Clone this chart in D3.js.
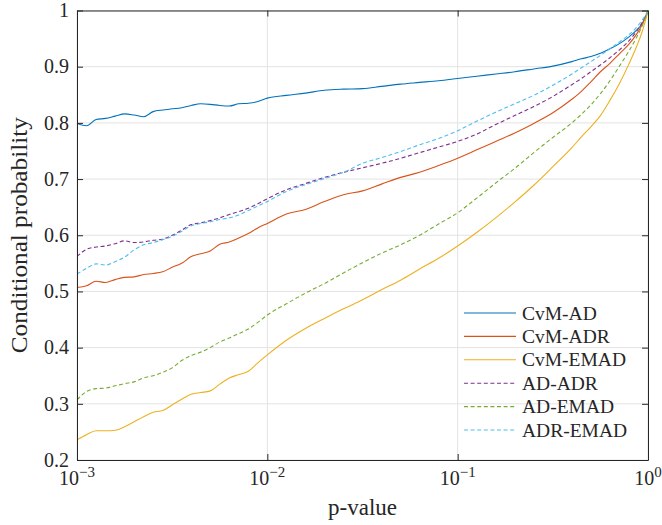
<!DOCTYPE html>
<html>
<head>
<meta charset="utf-8">
<script src="https://cdn.jsdelivr.net/npm/d3@7"></script>
<style>
  body { margin: 0; background: #fff; }
  text { font-family: "Liberation Serif", "Times New Roman", serif; fill: #262626; }
</style>
</head>
<body>
<div id="chart"></div>
<script>
const svgWidth = 662;
const svgHeight = 525;

const margin = { top: 10.5, right: 14, bottom: 65, left: 77 };
const width = svgWidth - margin.left - margin.right;
const height = svgHeight - margin.top - margin.bottom;

// x grid (log10 of the p-value) shared by every curve
const logP = [-3, -2.95, -2.9, -2.85, -2.8, -2.75, -2.7, -2.65, -2.6, -2.55, -2.5, -2.45, -2.4, -2.35, -2.3,
  -2.25, -2.2, -2.15, -2.1, -2.05, -2, -1.9, -1.8, -1.7, -1.6, -1.5, -1.4, -1.3, -1.2, -1.1, -1,
  -0.9, -0.8, -0.7, -0.6, -0.5, -0.4, -0.35, -0.3, -0.25, -0.2, -0.15, -0.1, -0.06, -0.03, 0];

const cvmAD = [0.799, 0.795, 0.806, 0.808, 0.812, 0.816, 0.814, 0.811, 0.820, 0.823, 0.825, 0.827, 0.831, 0.834, 0.833,
  0.831, 0.830, 0.834, 0.835, 0.838, 0.844, 0.849, 0.853, 0.858, 0.860, 0.861, 0.865, 0.869, 0.872, 0.875, 0.879,
  0.883, 0.887, 0.891, 0.896, 0.901, 0.909, 0.914, 0.918, 0.924, 0.932, 0.941, 0.953, 0.965, 0.977, 0.999];
const cvmADR = [0.507, 0.510, 0.518, 0.516, 0.521, 0.525, 0.526, 0.530, 0.532, 0.535, 0.543, 0.550, 0.562, 0.567, 0.572,
  0.584, 0.588, 0.595, 0.603, 0.613, 0.621, 0.638, 0.646, 0.660, 0.672, 0.679, 0.691, 0.703, 0.712, 0.724, 0.737,
  0.752, 0.767, 0.782, 0.799, 0.818, 0.842, 0.856, 0.873, 0.891, 0.906, 0.923, 0.940, 0.958, 0.975, 0.999];
const cvmEMAD = [0.236, 0.245, 0.252, 0.252, 0.253, 0.259, 0.268, 0.277, 0.285, 0.288, 0.298, 0.308, 0.317, 0.320, 0.323,
  0.335, 0.346, 0.352, 0.358, 0.373, 0.387, 0.413, 0.434, 0.452, 0.469, 0.485, 0.503, 0.520, 0.540, 0.559, 0.581,
  0.605, 0.631, 0.659, 0.689, 0.722, 0.756, 0.775, 0.793, 0.813, 0.840, 0.870, 0.905, 0.936, 0.963, 0.999];
const adADR = [0.562, 0.575, 0.579, 0.581, 0.585, 0.590, 0.587, 0.588, 0.591, 0.593, 0.600, 0.609, 0.619, 0.622, 0.626,
  0.631, 0.637, 0.642, 0.648, 0.656, 0.665, 0.681, 0.692, 0.703, 0.712, 0.720, 0.728, 0.737, 0.747, 0.757, 0.767,
  0.780, 0.797, 0.813, 0.829, 0.847, 0.868, 0.879, 0.891, 0.903, 0.916, 0.930, 0.946, 0.963, 0.979, 0.999];
const adEMAD = [0.307, 0.322, 0.327, 0.328, 0.332, 0.336, 0.339, 0.346, 0.350, 0.356, 0.364, 0.377, 0.386, 0.392, 0.400,
  0.410, 0.417, 0.425, 0.433, 0.445, 0.458, 0.478, 0.497, 0.514, 0.533, 0.551, 0.568, 0.583, 0.600, 0.620, 0.640,
  0.666, 0.693, 0.719, 0.747, 0.774, 0.800, 0.815, 0.832, 0.852, 0.875, 0.901, 0.928, 0.952, 0.973, 0.999];
const adrEMAD = [0.531, 0.541, 0.549, 0.547, 0.553, 0.561, 0.574, 0.583, 0.587, 0.592, 0.598, 0.607, 0.617, 0.621, 0.624,
  0.628, 0.631, 0.636, 0.644, 0.652, 0.660, 0.678, 0.690, 0.701, 0.712, 0.728, 0.738, 0.749, 0.761, 0.772, 0.786,
  0.803, 0.819, 0.834, 0.849, 0.867, 0.887, 0.898, 0.909, 0.920, 0.932, 0.944, 0.957, 0.970, 0.983, 0.999];

const seriesNames = ["CvM-AD", "CvM-ADR", "CvM-EMAD", "AD-ADR", "AD-EMAD", "ADR-EMAD"];
const seriesValues = [cvmAD, cvmADR, cvmEMAD, adADR, adEMAD, adrEMAD];
const seriesColors = ["#0072BD", "#D95319", "#EDB120", "#7E2F8E", "#77AC30", "#4DBEEE"];
const seriesDashed = [false, false, false, true, true, true];

const xTickValues = [1e-3, 1e-2, 1e-1, 1];
const xTickExps = ["\u22123", "\u22122", "\u22121", "0"];
const yTickValues = [0.2, 0.3, 0.4, 0.5, 0.6, 0.7, 0.8, 0.9, 1];
const yTickLabels = ["0.2", "0.3", "0.4", "0.5", "0.6", "0.7", "0.8", "0.9", "1"];

const svg = d3.select("#chart")
  .append("svg")
  .attr("width", svgWidth)
  .attr("height", svgHeight);

const chartGroup = svg.append("g")
  .attr("transform", `translate(${margin.left}, ${margin.top})`);

const xScale = d3.scaleLog().domain([1e-3, 1]).range([0, width]);
const yScale = d3.scaleLinear().domain([0.2, 1]).range([height, 0]);

// grid lines
chartGroup.append("g")
  .selectAll("line")
  .data(yTickValues)
  .enter()
  .append("line")
  .attr("x1", 0).attr("x2", width)
  .attr("y1", d => yScale(d)).attr("y2", d => yScale(d))
  .attr("stroke", "#e3e3e3").attr("stroke-width", 1);
chartGroup.append("g")
  .selectAll("line")
  .data(xTickValues)
  .enter()
  .append("line")
  .attr("y1", 0).attr("y2", height)
  .attr("x1", d => xScale(d)).attr("x2", d => xScale(d))
  .attr("stroke", "#e3e3e3").attr("stroke-width", 1);

// lines
svg.append("defs").append("clipPath").attr("id", "clip")
  .append("rect").attr("x", 0).attr("y", -2).attr("width", width).attr("height", height + 2);

const line = d3.line()
  .x((d, i) => xScale(Math.pow(10, logP[i])))
  .y(d => yScale(d))
  .curve(d3.curveMonotoneX);

const lineGroup = chartGroup.append("g").attr("clip-path", "url(#clip)");
seriesValues.forEach((vals, k) => {
  lineGroup.append("path")
    .datum(vals)
    .attr("d", line)
    .attr("fill", "none")
    .attr("stroke", seriesColors[k])
    .attr("stroke-width", 1.1)
    .attr("stroke-dasharray", seriesDashed[k] ? "4,2.6" : null);
});

// axes: ticks pointing inwards on all four sides
const tickLen = 6;
const styleAxis = g => {
  g.selectAll("path.domain").attr("stroke", "#262626").attr("stroke-width", 1);
  g.selectAll(".tick line").attr("stroke", "#262626").attr("stroke-width", 1);
};
chartGroup.append("g")
  .attr("transform", `translate(0, ${height})`)
  .call(d3.axisBottom(xScale).tickValues(xTickValues).tickSize(-tickLen).tickSizeOuter(0).tickFormat(""))
  .call(styleAxis);
chartGroup.append("g")
  .call(d3.axisTop(xScale).tickValues(xTickValues).tickSize(-tickLen).tickSizeOuter(0).tickFormat(""))
  .call(styleAxis);
chartGroup.append("g")
  .call(d3.axisLeft(yScale).tickValues(yTickValues).tickSize(-tickLen).tickSizeOuter(0).tickFormat(""))
  .call(styleAxis);
chartGroup.append("g")
  .attr("transform", `translate(${width}, 0)`)
  .call(d3.axisRight(yScale).tickValues(yTickValues).tickSize(-tickLen).tickSizeOuter(0).tickFormat(""))
  .call(styleAxis);

// tick labels
chartGroup.selectAll(".ylab")
  .data(yTickValues)
  .enter()
  .append("text")
  .attr("x", -8)
  .attr("y", d => yScale(d) + 6.8)
  .attr("text-anchor", "end")
  .style("font-size", "20px")
  .text((d, i) => yTickLabels[i]);

const xLabels = chartGroup.selectAll(".xlab")
  .data(xTickValues)
  .enter()
  .append("text")
  .attr("x", d => xScale(d))
  .attr("y", height + 25)
  .attr("text-anchor", "middle")
  .style("font-size", "20px");
xLabels.append("tspan").text("10");
xLabels.append("tspan")
  .attr("dy", -8)
  .style("font-size", "15px")
  .text((d, i) => xTickExps[i]);

// axis labels
chartGroup.append("text")
  .attr("x", width / 2)
  .attr("y", height + 55)
  .attr("text-anchor", "middle")
  .style("font-size", "23px")
  .text("p-value");

chartGroup.append("text")
  .attr("transform", `translate(${-50}, ${height / 2}) rotate(-90)`)
  .attr("text-anchor", "middle")
  .attr("textLength", 236)
  .attr("lengthAdjust", "spacingAndGlyphs")
  .style("font-size", "23px")
  .text("Conditional probability");

// legend
const legend = chartGroup.append("g")
  .attr("transform", `translate(${464 - margin.left}, ${313 - margin.top})`);
seriesNames.forEach((name, k) => {
  const row = legend.append("g").attr("transform", `translate(0, ${k * 23.4})`);
  row.append("line")
    .attr("x1", 0).attr("x2", 52)
    .attr("stroke", seriesColors[k])
    .attr("stroke-width", 1.1)
    .attr("stroke-dasharray", seriesDashed[k] ? "4,2.6" : null);
  row.append("text")
    .attr("x", 58)
    .attr("y", 6.5)
    .style("font-size", "19.5px")
    .text(name);
});
</script>
</body>
</html>
